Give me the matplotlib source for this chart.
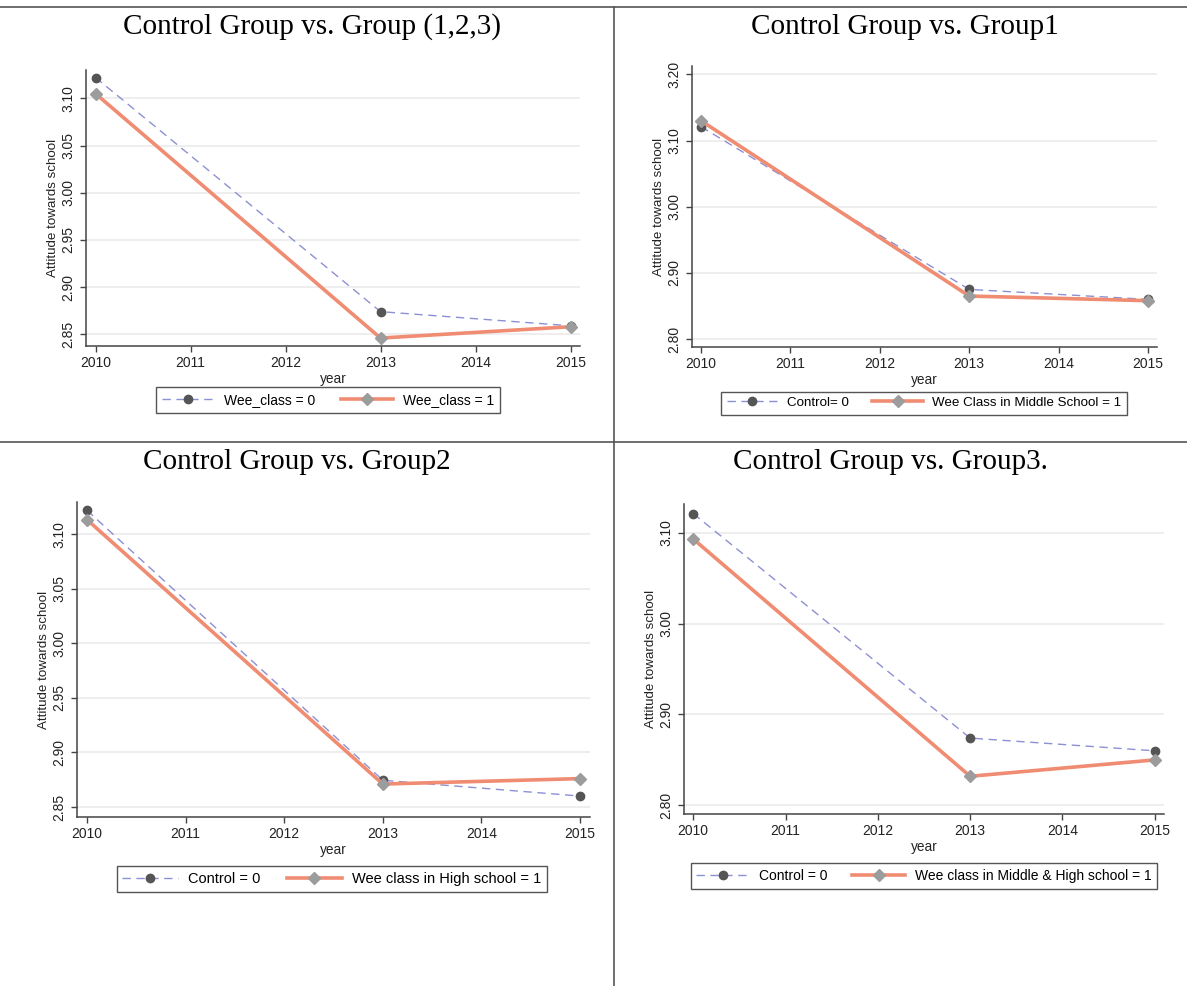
import matplotlib.pyplot as plt
from matplotlib.lines import Line2D
from matplotlib.ticker import FormatStrFormatter

plt.rcParams["font.family"] = ["Liberation Sans", "DejaVu Sans"]

# survey years and mean attitude scores per group
years = [2010, 2013, 2015]
x_ticks = [2010, 2011, 2012, 2013, 2014, 2015]

titles = ["Control Group vs. Group (1,2,3)", "Control Group vs. Group1",
          "Control Group vs. Group2", "Control Group vs. Group3."]

control_all = [3.122, 2.874, 2.859]
treated_all = [3.105, 2.846, 2.858]
control_g1 = [3.121, 2.875, 2.860]
treated_g1 = [3.130, 2.865, 2.858]
control_g2 = [3.122, 2.8745, 2.860]
treated_g2 = [3.1135, 2.871, 2.876]
control_g3 = [3.121, 2.874, 2.860]
treated_g3 = [3.093, 2.832, 2.850]

control_labels = ["Wee_class = 0", "Control= 0", "Control = 0", "Control = 0"]
treated_labels = ["Wee_class = 1", "Wee Class in Middle School = 1",
                  "Wee class in High school = 1", "Wee class in Middle & High school = 1"]

yticks_all = [2.85, 2.90, 2.95, 3.00, 3.05, 3.10]
yticks_g1 = [2.80, 2.90, 3.00, 3.10, 3.20]
yticks_g2 = [2.85, 2.90, 2.95, 3.00, 3.05, 3.10]
yticks_g3 = [2.80, 2.90, 3.00, 3.10]

W, H = 1187, 986
fig = plt.figure(figsize=(W / 100, H / 100), dpi=100)
fig.patch.set_facecolor("white")

CTRL_LINE = "#8c90d4"
CTRL_MARK = "#555555"
TRT_LINE = "#ef8c72"
TRT_MARK = "#9c9c9c"
AXIS_COL = "#444444"


def px_box(left, top, right, bottom):
    return [left / W, 1 - bottom / H, (right - left) / W, (bottom - top) / H]


def panel(box, control, treated, yticks, ylim, clabel, tlabel, leg_xy, ylabel_pad, leg_fs=10):
    ax = fig.add_axes(px_box(*box))
    ax.plot(years, control, color=CTRL_LINE, lw=1.0, ls=(0, (6, 4)),
            marker="o", ms=6, mfc=CTRL_MARK, mec=CTRL_MARK, label=clabel, zorder=3)
    ax.plot(years, treated, color=TRT_LINE, lw=2.6, ls="-",
            marker="D", ms=6, mfc=TRT_MARK, mec=TRT_MARK, label=tlabel, zorder=4)
    ax.set_xlim(2009.9, 2015.1)
    ax.set_ylim(*ylim)
    ax.set_xticks(x_ticks)
    ax.set_yticks(yticks)
    ax.yaxis.set_major_formatter(FormatStrFormatter("%.2f"))
    ax.grid(axis="y", color="#ebebeb", lw=1.2)
    ax.set_axisbelow(True)
    for s in ["top", "right"]:
        ax.spines[s].set_visible(False)
    for s in ["left", "bottom"]:
        ax.spines[s].set_color(AXIS_COL)
        ax.spines[s].set_linewidth(1.1)
    ax.tick_params(colors=AXIS_COL, labelcolor="#222222", labelsize=10, length=4, width=1.0)
    ax.tick_params(axis="y", labelrotation=90)
    for t in ax.get_yticklabels():
        t.set_va("center")
    ax.set_xlabel("year", fontsize=9.8, color="#222222", labelpad=1)
    ax.set_ylabel("Attitude towards school", fontsize=9.6, color="#222222", labelpad=ylabel_pad)
    fig.legend(loc="center", bbox_to_anchor=(leg_xy[0] / W, 1 - leg_xy[1] / H), ncol=2,
               handles=ax.get_legend_handles_labels()[0], fontsize=leg_fs,
               frameon=True, fancybox=False, edgecolor="#555555", framealpha=1,
               handlelength=3.8, handletextpad=0.7, columnspacing=1.8, borderpad=0.4)
    return ax


panel((86, 70, 580, 346), control_all, treated_all, yticks_all, (2.8376, 3.130),
      control_labels[0], treated_labels[0], (328, 400), 1.5)
panel((692, 66, 1157, 347), control_g1, treated_g1, yticks_g1, (2.788, 3.2126),
      control_labels[1], treated_labels[1], (924, 403), 1.5, 9.6)
panel((77, 502, 590, 817), control_g2, treated_g2, yticks_g2, (2.8408, 3.1296),
      control_labels[2], treated_labels[2], (332, 879), 2, 10.5)
panel((684, 504, 1164, 814), control_g3, treated_g3, yticks_g3, (2.7905, 3.1315),
      control_labels[3], treated_labels[3], (924, 876), 2)

# panel titles
title_pos = [(312, 27), (905, 27), (297, 462), (890, 462)]
for t, (x, y) in zip(titles, title_pos):
    fig.text(x / W, 1 - y / H, t, ha="center", va="center",
             family="Liberation Serif", fontsize=21, color="black")

# table rules between the panels
rule = dict(color="#555555", lw=1.2, transform=fig.transFigure)
fig.add_artist(Line2D([0, 1], [1 - 7 / H, 1 - 7 / H], **rule))
fig.add_artist(Line2D([0, 1], [1 - 442 / H, 1 - 442 / H], **rule))
fig.add_artist(Line2D([614 / W, 614 / W], [0, 1 - 7 / H], **rule))

fig.savefig("out.png", dpi=100)
